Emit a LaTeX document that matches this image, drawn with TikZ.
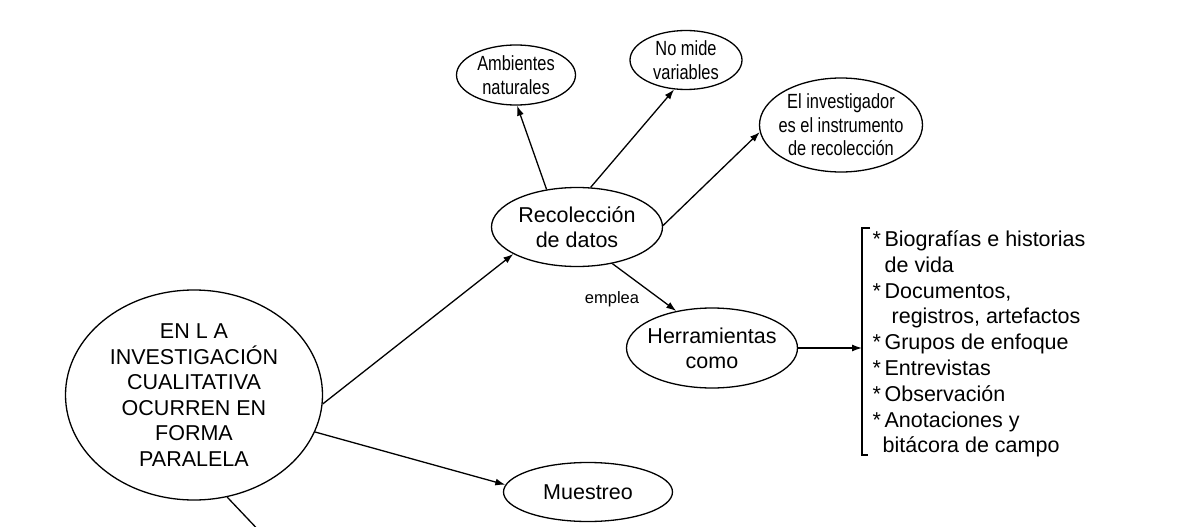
\documentclass[tikz,border=0pt]{standalone}
\usepackage{fontspec}
\setmainfont{Liberation Sans}
\newfontfamily\narrowfont[FakeStretch=0.8]{Liberation Sans}
\usetikzlibrary{shapes.geometric,arrows.meta}
\begin{document}
\begin{tikzpicture}[x=1pt, y=-1pt, line width=1.3pt, >={Latex[length=10pt,width=7pt]},
idea node/.style={ellipse,draw,inner sep=-60pt,align=center,font=\fontsize{21.5}{25}\selectfont},
narrow node/.style={idea node,font=\narrowfont\fontsize{20.5}{23.5}\selectfont},
main node/.style={idea node,font=\fontsize{21.5}{25.5}\selectfont}]
\useasboundingbox (0,0) rectangle (1195,527);
\clip (0,0) rectangle (1195,527);
\begin{scope}
\node[main node,minimum width=257pt,minimum height=210pt] (main) at (194,395) {EN L A\\INVESTIGACIÓN\\CUALITATIVA\\OCURREN EN\\FORMA\\PARALELA};
\node[idea node,minimum width=171pt,minimum height=79pt] (recol) at (577,227) {Recolección\\de datos};
\node[narrow node,minimum width=119pt,minimum height=60pt] (amb) at (516,75) {Ambientes\\naturales};
\node[narrow node,minimum width=112pt,minimum height=59pt] (nomide) at (686,60) {No mide\\variables};
\node[narrow node,minimum width=163pt,minimum height=94pt] (invest) at (841,125) {El investigador\\es el instrumento\\de recolección};
\node[idea node,minimum width=171pt,minimum height=80pt] (herr) at (712,348) {Herramientas\\como};
\node[idea node,minimum width=169pt,minimum height=59pt] (muest) at (588,492) {Muestreo};
\node[anchor=north west,inner sep=0pt,align=left,font=\fontsize{21.5}{25.8}\selectfont] (tools) at (872,230)
  {*\,Biografías e historias\\
   \hspace*{12pt}de vida\\
   *\,Documentos,\\
   \hspace*{19pt}registros, artefactos\\
   *\,Grupos de enfoque\\
   *\,Entrevistas\\
   *\,Observación\\
   *\,Anotaciones y\\
   \hspace*{10pt}bitácora de campo};
\node[font=\fontsize{16.5}{18}\selectfont] (emplea) at (612,299) {emplea};
\coordinate (brk) at (862,348);
\coordinate (down) at (265,537);
\end{scope}
\begin{scope}
\draw[->] (main.-4.5) -- (recol.203);
\draw[->] (main.-17) -- (muest.175);
\draw (main.-72) -- (down);
\draw[->] (recol.129) -- (amb.-88);
\draw[->] (recol.71) -- (nomide.-112);
\draw[->] (recol.1) -- (invest.185);
\draw[->] (recol.-46) -- (herr.134);
\draw[->] (herr.east) -- (brk);
\draw (870,228) -- (862,228) -- (862,455) -- (868,455);
\end{scope}
\end{tikzpicture}
\end{document}
